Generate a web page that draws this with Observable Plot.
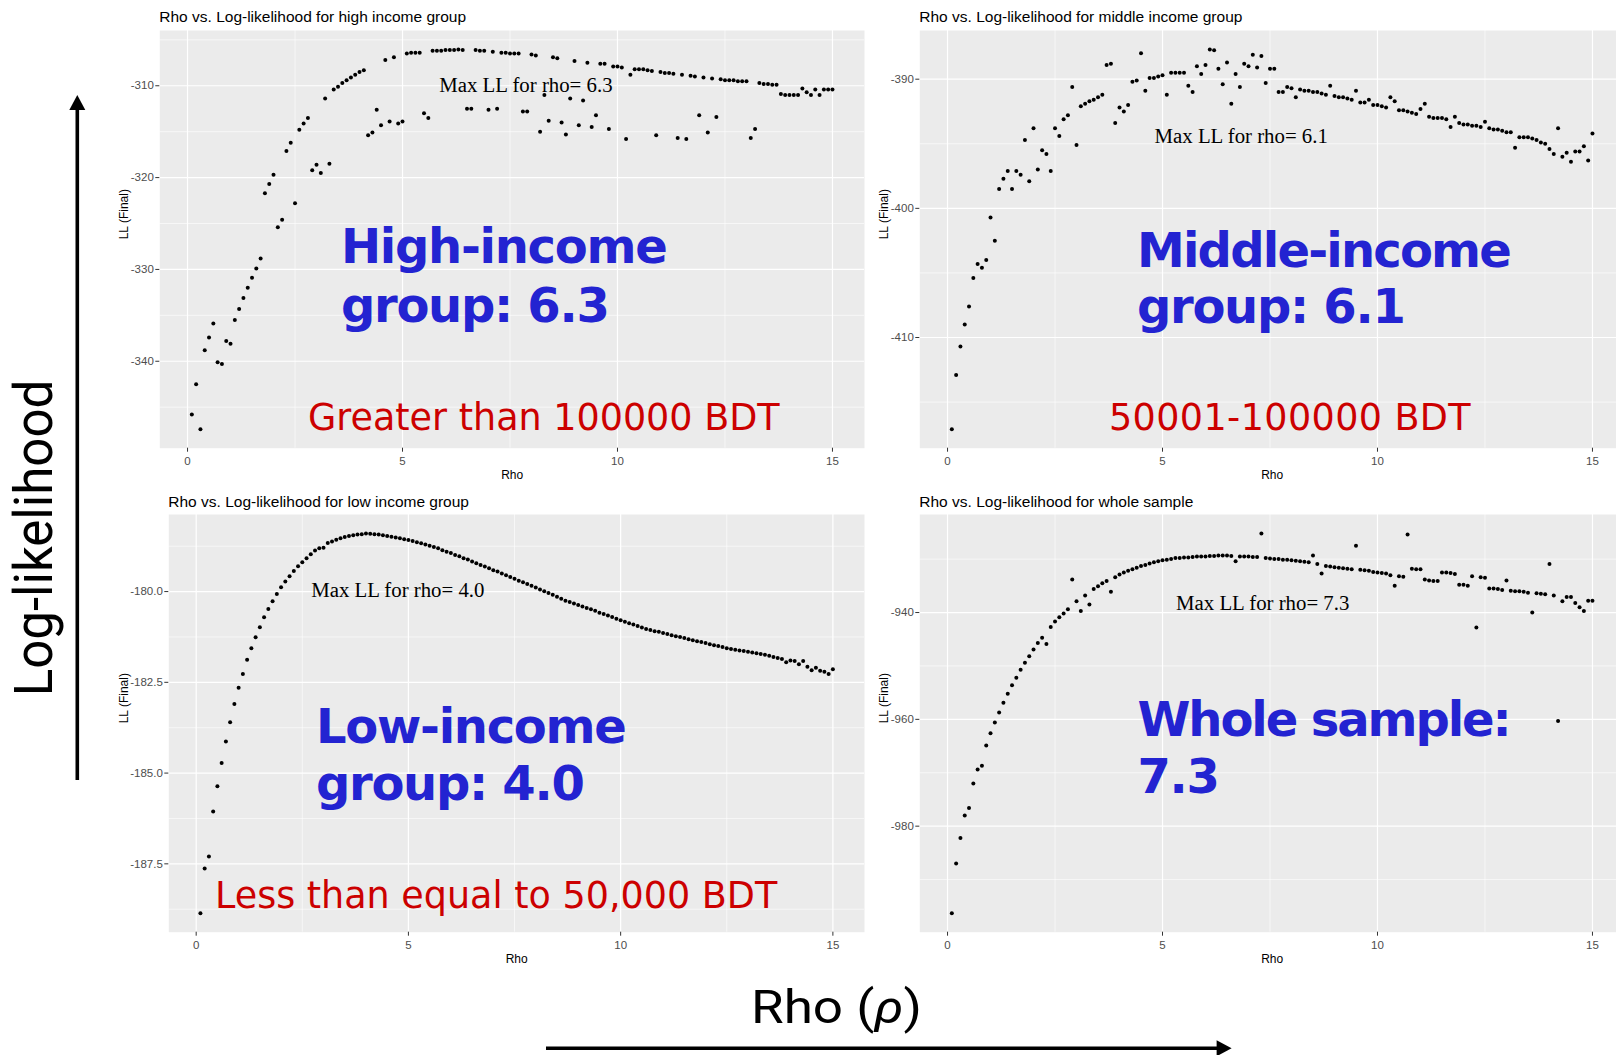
<!DOCTYPE html>
<html>
<head>
<meta charset="utf-8">
<script src="https://cdn.jsdelivr.net/npm/d3@7"></script>
<script src="https://cdn.jsdelivr.net/npm/@observablehq/plot@0.6"></script>
<style>
  body { margin: 0; background: #fff; }
  #page { position: relative; width: 1616px; height: 1055px; overflow: hidden; background: #fff; font-family: "Liberation Sans", Arial, sans-serif; }
  .panel { position: absolute; }
  .panel svg { max-width: none !important; }
  .ptitle { position: absolute; font-size: 15.5px; line-height: 1; color: #000; white-space: nowrap; }
  #overlay { position: absolute; left: 0; top: 0; pointer-events: none; }
</style>
</head>
<body>
<div id="page"></div>
<script>
// ---------- data ----------
const rho = [0.1,0.2,0.3,0.4,0.5,0.6,0.7,0.8,0.9,1.0,1.1,1.2,1.3,1.4,1.5,1.6,1.7,1.8,1.9,2.0,
  2.1,2.2,2.3,2.4,2.5,2.6,2.7,2.8,2.9,3.0,3.1,3.2,3.3,3.4,3.5,3.6,3.7,3.8,3.9,4.0,
  4.1,4.2,4.3,4.4,4.5,4.6,4.7,4.8,4.9,5.0,5.1,5.2,5.3,5.4,5.5,5.6,5.7,5.8,5.9,6.0,
  6.1,6.2,6.3,6.4,6.5,6.6,6.7,6.8,6.9,7.0,7.1,7.2,7.3,7.4,7.5,7.6,7.7,7.8,7.9,8.0,
  8.1,8.2,8.3,8.4,8.5,8.6,8.7,8.8,8.9,9.0,9.1,9.2,9.3,9.4,9.5,9.6,9.7,9.8,9.9,10.0,
  10.1,10.2,10.3,10.4,10.5,10.6,10.7,10.8,10.9,11.0,11.1,11.2,11.3,11.4,11.5,11.6,11.7,11.8,11.9,12.0,
  12.1,12.2,12.3,12.4,12.5,12.6,12.7,12.8,12.9,13.0,13.1,13.2,13.3,13.4,13.5,13.6,13.7,13.8,13.9,14.0,
  14.1,14.2,14.3,14.4,14.5,14.6,14.7,14.8,14.9,15.0];

const llHigh = [-345.8,-342.5,-347.4,-338.8,-337.4,-335.9,-340.1,-340.3,-337.8,-338.1,
  -335.5,-334.3,-333.1,-332.0,-330.9,-329.9,-328.8,-321.7,-320.7,-319.7,
  -325.4,-324.6,-317.1,-316.2,-322.8,-314.8,-314.1,-313.5,-319.2,-318.6,
  -319.5,-311.4,-318.5,-310.4,-310.1,-309.7,-309.4,-309.1,-308.8,-308.5,
  -308.3,-315.4,-315.1,-312.6,-314.3,-307.2,-313.9,-306.9,-314.1,-313.9,
  -306.5,-306.4,-306.4,-306.4,-313.0,-313.5,-306.2,-306.2,-306.2,-306.1,
  -306.1,-306.1,-306.05,-306.1,-312.5,-312.5,-306.1,-306.2,-306.2,-312.6,
  -306.3,-312.5,-306.4,-306.4,-306.5,-306.5,-306.5,-312.8,-312.8,-306.6,
  -306.7,-315.0,-311.0,-313.8,-306.9,-307.0,-314.0,-315.3,-311.4,-307.3,
  -314.3,-311.6,-307.5,-314.5,-313.2,-307.6,-307.6,-314.7,-307.9,-307.9,
  -308.0,-315.8,-308.8,-308.2,-308.2,-308.2,-308.3,-308.4,-315.4,-308.5,
  -308.6,-308.6,-308.7,-315.7,-308.8,-315.8,-308.9,-309.0,-313.2,-309.1,
  -315.1,-309.2,-313.4,-309.3,-309.4,-309.4,-309.4,-309.5,-309.5,-309.5,
  -315.7,-314.7,-309.7,-309.8,-309.8,-309.9,-309.9,-310.9,-311.0,-311.0,
  -311.0,-311.0,-310.3,-310.7,-311.0,-310.4,-311.0,-310.4,-310.4,-310.4];

const llMiddle = [-417.1,-412.9,-410.7,-409.0,-407.6,-405.4,-404.3,-404.6,-404.0,-400.7,
  -402.5,-398.5,-397.7,-397.1,-398.5,-397.1,-397.4,-394.7,-397.9,-393.8,
  -397.0,-395.5,-395.8,-397.1,-393.8,-394.4,-393.1,-392.8,-390.6,-395.1,
  -392.1,-391.9,-391.7,-391.6,-391.4,-391.2,-388.9,-388.8,-393.4,-392.2,
  -392.5,-392.0,-390.2,-390.1,-388.0,-390.9,-389.9,-389.9,-389.8,-389.7,
  -391.2,-389.5,-389.5,-389.5,-389.5,-390.5,-391.0,-389.0,-389.6,-388.9,
  -387.7,-387.75,-389.2,-390.4,-388.7,-391.9,-389.6,-390.6,-388.8,-389.0,
  -388.1,-389.1,-388.2,-390.3,-389.2,-389.2,-391.0,-391.0,-390.6,-390.7,
  -391.4,-390.8,-390.9,-390.9,-391.0,-391.0,-391.1,-391.2,-390.5,-391.3,
  -391.4,-391.4,-391.5,-391.6,-390.9,-391.8,-391.8,-391.6,-392.0,-392.0,
  -392.1,-392.2,-391.4,-391.7,-392.4,-392.4,-392.5,-392.6,-392.7,-392.3,
  -391.9,-392.9,-393.0,-393.0,-393.0,-393.1,-393.7,-392.9,-393.4,-393.5,
  -393.5,-393.6,-393.6,-393.7,-393.3,-393.8,-393.9,-393.9,-394.0,-394.1,
  -394.1,-395.3,-394.5,-394.5,-394.5,-394.6,-394.7,-394.9,-395.0,-395.4,
  -395.8,-393.8,-396.0,-395.7,-396.4,-395.6,-395.6,-395.2,-396.3,-394.2];

const llLow = [-188.86,-187.63,-187.30,-186.06,-185.36,-184.72,-184.13,-183.60,-183.10,-182.65,
  -182.27,-181.88,-181.56,-181.26,-180.98,-180.71,-180.48,-180.27,-180.07,-179.88,
  -179.72,-179.58,-179.43,-179.30,-179.19,-179.08,-178.97,-178.87,-178.81,-178.79,
  -178.66,-178.62,-178.57,-178.53,-178.50,-178.47,-178.45,-178.43,-178.42,-178.40,
  -178.41,-178.42,-178.43,-178.45,-178.47,-178.49,-178.51,-178.53,-178.56,-178.58,
  -178.61,-178.64,-178.67,-178.70,-178.74,-178.77,-178.81,-178.86,-178.90,-178.94,
  -178.99,-179.03,-179.08,-179.12,-179.17,-179.22,-179.27,-179.31,-179.36,-179.41,
  -179.45,-179.50,-179.55,-179.60,-179.65,-179.70,-179.74,-179.79,-179.84,-179.89,
  -179.94,-179.99,-180.04,-180.09,-180.14,-180.20,-180.25,-180.29,-180.33,-180.37,
  -180.41,-180.45,-180.49,-180.53,-180.58,-180.62,-180.66,-180.70,-180.75,-180.79,
  -180.83,-180.87,-180.91,-180.95,-180.99,-181.03,-181.06,-181.09,-181.11,-181.14,
  -181.17,-181.20,-181.23,-181.25,-181.28,-181.31,-181.34,-181.37,-181.39,-181.42,
  -181.45,-181.48,-181.50,-181.53,-181.56,-181.58,-181.60,-181.62,-181.64,-181.66,
  -181.68,-181.70,-181.72,-181.74,-181.77,-181.80,-181.83,-181.86,-181.95,-181.90,
  -181.91,-182.00,-181.91,-182.07,-182.17,-182.10,-182.18,-182.21,-182.27,-182.14];

const llWhole = [-996.3,-987.0,-982.2,-978.0,-976.6,-972.0,-969.4,-968.7,-964.9,-962.6,
  -960.6,-958.7,-956.9,-955.2,-953.6,-952.2,-950.7,-949.4,-948.2,-946.9,
  -945.7,-944.7,-945.9,-942.7,-941.7,-940.9,-940.2,-939.4,-933.8,-937.9,
  -939.7,-936.8,-938.5,-935.6,-935.1,-934.5,-934.1,-936.1,-933.4,-932.9,
  -932.5,-932.2,-931.9,-931.6,-931.3,-931.1,-930.8,-930.6,-930.4,-930.2,
  -930.1,-930.0,-929.8,-929.8,-929.7,-929.7,-929.6,-929.5,-929.5,-929.5,
  -929.4,-929.4,-929.3,-929.3,-929.3,-929.4,-930.4,-929.5,-929.5,-929.5,
  -929.6,-929.6,-925.2,-929.8,-929.9,-930.0,-930.0,-930.1,-930.1,-930.2,
  -930.3,-930.4,-930.5,-930.6,-929.3,-930.9,-932.7,-931.3,-931.4,-931.5,
  -931.6,-931.7,-931.8,-931.9,-927.5,-932.0,-932.1,-932.2,-932.4,-932.5,
  -932.6,-932.7,-933.0,-935.0,-933.2,-933.3,-925.4,-931.8,-931.9,-931.9,
  -933.8,-934.0,-934.1,-934.1,-932.5,-932.5,-932.6,-932.8,-934.8,-934.8,
  -935.0,-933.2,-942.8,-933.4,-933.5,-935.5,-935.5,-935.6,-935.8,-934.0,
  -935.9,-936.0,-936.0,-936.1,-936.3,-940.0,-936.4,-936.5,-936.6,-930.9,
  -936.8,-960.3,-937.9,-937.1,-937.1,-938.2,-939.0,-939.7,-937.8,-937.8];

const xTicks = [0, 5, 10, 15];
const xMinor = [2.5, 7.5, 12.5];
const titles = ["Rho vs. Log-likelihood for high income group",
                "Rho vs. Log-likelihood for middle income group",
                "Rho vs. Log-likelihood for low income group",
                "Rho vs. Log-likelihood for whole sample"];
const notes = ["Max LL for rho= 6.3", "Max LL for rho= 6.1", "Max LL for rho= 4.0", "Max LL for rho= 7.3"];
const noteX = [7.87, 6.83, 4.75, 7.33];
const noteY = [-310, -394.46, -179.96, -938.3];
const yTicksHigh = [-340, -330, -320, -310];
const yMinorHigh = [-345, -335, -325, -315, -305];
const yTicksMiddle = [-410, -400, -390];
const yMinorMiddle = [-415, -405, -395];
const yTicksLow = [-187.5, -185, -182.5, -180];
const yMinorLow = [-188.75, -186.25, -183.75, -181.25, -178.75];
const yTicksWhole = [-980, -960, -940];
const yMinorWhole = [-990, -970, -950, -930];

// ---------- panels ----------
const page = document.getElementById("page");

function makePanel(cfg) {
  const data = rho.map((r, i) => ({rho: r, ll: cfg.ll[i]}));
  const [ylo, yhi] = d3.extent(cfg.ll);
  const yp = (yhi - ylo) * 0.05;
  const [xlo, xhi] = d3.extent(rho);
  const xp = (xhi - xlo) * 0.05;
  const chart = Plot.plot({
    width: cfg.width, height: cfg.height,
    marginLeft: cfg.marginLeft, marginTop: cfg.marginTop,
    marginBottom: cfg.marginBottom, marginRight: 0,
    style: {fontFamily: "'Liberation Sans', Arial, sans-serif", fontSize: "11.5px", color: "#4d4d4d", background: "transparent", overflow: "visible", maxWidth: "none"},
    x: {domain: [xlo - xp, xhi + xp]},
    y: {domain: [ylo - yp, yhi + yp]},
    marks: [
      Plot.frame({fill: "#ebebeb", stroke: "none"}),
      Plot.ruleX(xMinor, {stroke: "#ffffff", strokeWidth: 0.6}),
      Plot.ruleY(cfg.yMinor, {stroke: "#ffffff", strokeWidth: 0.6}),
      Plot.ruleX(xTicks, {stroke: "#ffffff", strokeWidth: 1.2}),
      Plot.ruleY(cfg.yTicks, {stroke: "#ffffff", strokeWidth: 1.2}),
      Plot.dot(data, {x: "rho", y: "ll", r: 2, fill: "#000", stroke: "none"}),
      Plot.text([cfg.note], {x: () => cfg.noteX, y: () => cfg.noteY, text: d => d,
        fontFamily: "'Liberation Serif', 'Times New Roman', serif", fontSize: 20.8, fill: "#000"}),
      Plot.axisX({ticks: xTicks, tickFormat: d => String(d), tickSize: 4, tickPadding: 4.5, stroke: "#333", label: null}),
      Plot.axisY({ticks: cfg.yTicks, tickFormat: cfg.yFmt, tickSize: 4, tickPadding: 2, stroke: "#333", label: null}),
      Plot.text(["Rho"], {frameAnchor: "bottom", dy: 31, text: d => d, fontSize: 12, fill: "#000"}),
      Plot.text(["LL (Final)"], {frameAnchor: "left", dx: cfg.yLabelDx, rotate: -90, text: d => d, fontSize: 12, fill: "#000"})
    ]
  });
  const div = document.createElement("div");
  div.className = "panel";
  div.style.left = cfg.left + "px";
  div.style.top = cfg.top + "px";
  div.style.width = cfg.width + "px";
  div.style.height = cfg.height + "px";
  div.appendChild(chart);
  page.appendChild(div);

  const t = document.createElement("div");
  t.className = "ptitle";
  t.textContent = cfg.title;
  t.style.left = (cfg.left + cfg.marginLeft) + "px";
  t.style.top = cfg.titleTop + "px";
  page.appendChild(t);
}

const fmt0 = d => d.toFixed(0);
const fmt1 = d => d.toFixed(1);

makePanel({ll: llHigh, left: 100, top: 0, width: 764, height: 490, marginLeft: 59.3, marginTop: 30, marginBottom: 42.3,
  yTicks: yTicksHigh, yMinor: yMinorHigh, yFmt: fmt0, note: notes[0], noteX: noteX[0], noteY: noteY[0],
  yLabelDx: -36, title: titles[0], titleTop: 9});
makePanel({ll: llMiddle, left: 860, top: 0, width: 764, height: 490, marginLeft: 59.3, marginTop: 30, marginBottom: 42.3,
  yTicks: yTicksMiddle, yMinor: yMinorMiddle, yFmt: fmt0, note: notes[1], noteX: noteX[1], noteY: noteY[1],
  yLabelDx: -36, title: titles[1], titleTop: 9});
makePanel({ll: llLow, left: 100, top: 480, width: 764, height: 490, marginLeft: 68.3, marginTop: 34, marginBottom: 38.3,
  yTicks: yTicksLow, yMinor: yMinorLow, yFmt: fmt1, note: notes[2], noteX: noteX[2], noteY: noteY[2],
  yLabelDx: -45, title: titles[2], titleTop: 493.7});
makePanel({ll: llWhole, left: 860, top: 480, width: 764, height: 490, marginLeft: 59.3, marginTop: 34, marginBottom: 38.3,
  yTicks: yTicksWhole, yMinor: yMinorWhole, yFmt: fmt0, note: notes[3], noteX: noteX[3], noteY: noteY[3],
  yLabelDx: -36, title: titles[3], titleTop: 493.7});

// ---------- overlay annotations ----------
const NS = "http://www.w3.org/2000/svg";
const ov = document.createElementNS(NS, "svg");
ov.setAttribute("id", "overlay");
ov.setAttribute("width", 1616);
ov.setAttribute("height", 1055);
page.appendChild(ov);

function txt(s, x, y, attrs, extra) {
  const t = document.createElementNS(NS, "text");
  t.setAttribute("x", x);
  t.setAttribute("y", y);
  for (const k in attrs) t.setAttribute(k, attrs[k]);
  if (extra) for (const k in extra) t.setAttribute(k, extra[k]);
  t.textContent = s;
  ov.appendChild(t);
  return t;
}
const blue = {"font-family": "'DejaVu Sans', Verdana, sans-serif", "font-weight": "bold", "font-size": 48, "letter-spacing": -1.3, fill: "#2323d1"};
const red = {"font-family": "'DejaVu Sans', Verdana, sans-serif", "font-size": 36.5, fill: "#cc0000"};

txt("High-income", 341, 263, blue);
txt("group: 6.3", 341, 321.7, blue);
txt("Middle-income", 1137, 266.7, blue, {"letter-spacing": -1.8});
txt("group: 6.1", 1137, 323.3, blue);
txt("Low-income", 316, 743.3, blue);
txt("group: 4.0", 316, 800, blue);
txt("Whole sample:", 1137.5, 736, blue, {"letter-spacing": -2.1});
txt("7.3", 1137.5, 793.3, blue);

txt("Greater than 100000 BDT", 308, 430, red);
txt("50001-100000 BDT", 1109, 430, red, {"letter-spacing": 0.4});
txt("Less than equal to 50,000 BDT", 215, 908.3, red);

// big axis captions
txt("Log-likelihood", 0, 0, {"font-family": "Roboto, sans-serif", "font-size": 53.8, fill: "#000",
  "text-anchor": "middle", textLength: 316.7, lengthAdjust: "spacingAndGlyphs",
  transform: "translate(52,538) rotate(-90)"});
const rt = txt("Rho (", 751, 1022.7, {"font-family": "Roboto, sans-serif", "font-size": 46.8, fill: "#000",
  textLength: 171, lengthAdjust: "spacingAndGlyphs"});
const ts = document.createElementNS(NS, "tspan");
ts.setAttribute("font-style", "italic");
ts.textContent = "ρ";
rt.appendChild(ts);
rt.appendChild(document.createTextNode(")"));

// arrows
function line(x1, y1, x2, y2, w) {
  const l = document.createElementNS(NS, "line");
  l.setAttribute("x1", x1); l.setAttribute("y1", y1);
  l.setAttribute("x2", x2); l.setAttribute("y2", y2);
  l.setAttribute("stroke", "#000"); l.setAttribute("stroke-width", w);
  ov.appendChild(l);
}
function poly(pts) {
  const p = document.createElementNS(NS, "polygon");
  p.setAttribute("points", pts.map(d => d.join(",")).join(" "));
  p.setAttribute("fill", "#000");
  ov.appendChild(p);
}
line(77.3, 780, 77.3, 105, 3.6);
poly([[77.3, 95], [69.3, 110], [85.3, 110]]);
line(546, 1048.3, 1220, 1048.3, 3.6);
poly([[1231.6, 1048.3], [1216.6, 1040.3], [1216.6, 1056.3]]);
</script>
</body>
</html>
